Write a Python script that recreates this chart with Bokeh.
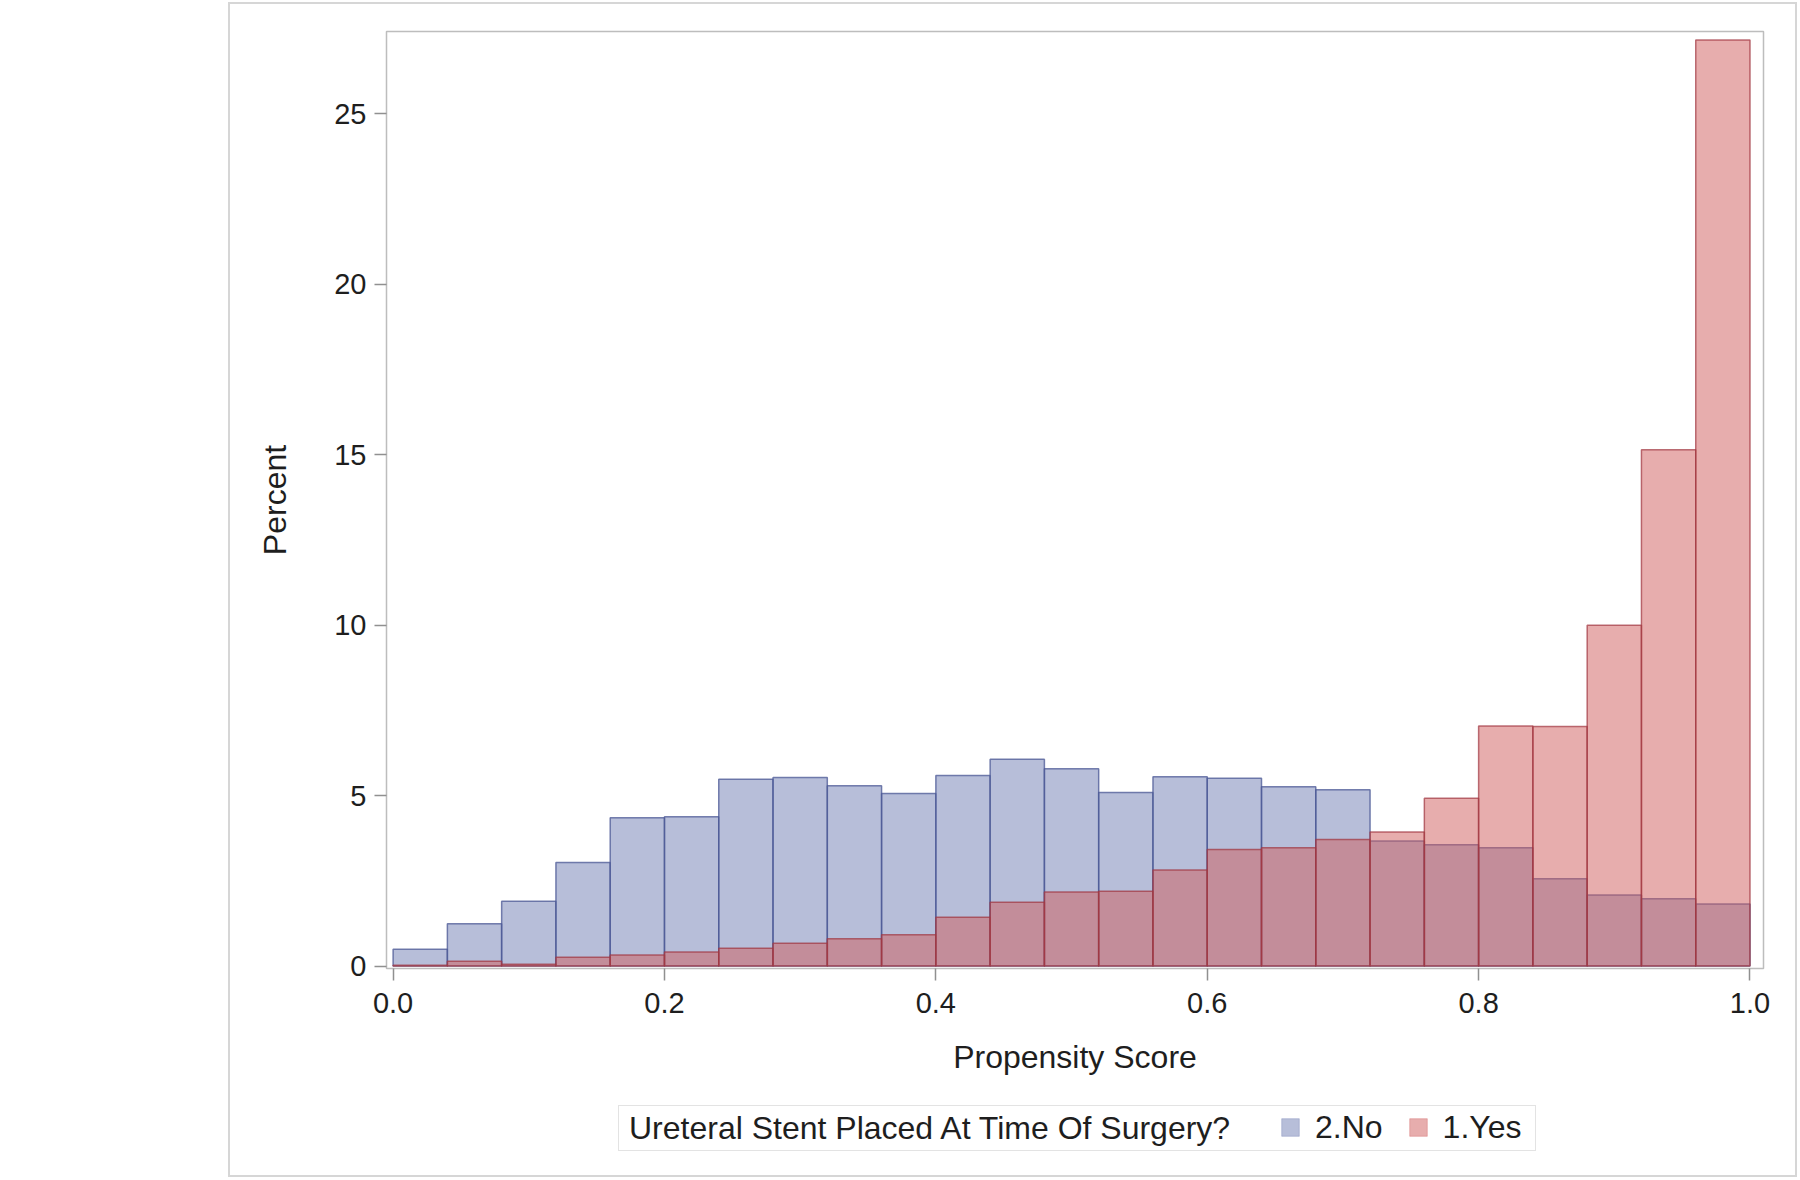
from bokeh.plotting import figure
from bokeh.models import (Range1d, FixedTicker, NumeralTickFormatter, Legend, LegendItem,
                          ColumnDataSource, Spacer)
from bokeh.layouts import row, column
from bokeh.embed import file_html
from bokeh.resources import INLINE

# ---- data (percent per propensity-score bin, bin width 0.04) ----
bin_edges = [0.00, 0.04, 0.08, 0.12, 0.16, 0.20, 0.24, 0.28, 0.32, 0.36, 0.40, 0.44, 0.48,
             0.52, 0.56, 0.60, 0.64, 0.68, 0.72, 0.76, 0.80, 0.84, 0.88, 0.92, 0.96, 1.00]
pct_no = [0.49, 1.24, 1.90, 3.04, 4.35, 4.38, 5.48, 5.53, 5.29, 5.06, 5.59, 6.07, 5.79,
          5.09, 5.55, 5.51, 5.26, 5.17, 3.67, 3.56, 3.47, 2.56, 2.08, 1.97, 1.82]
pct_yes = [0.02, 0.14, 0.05, 0.26, 0.32, 0.41, 0.52, 0.67, 0.80, 0.92, 1.43, 1.87, 2.17,
           2.19, 2.82, 3.42, 3.47, 3.71, 3.93, 4.92, 7.04, 7.03, 10.0, 15.15, 27.17]
group_labels = ["2.No", "1.Yes"]
legend_title = "Ureteral Stent Placed At Time Of Surgery?"
x_ticks = [0.0, 0.2, 0.4, 0.6, 0.8, 1.0]
y_ticks = [0, 5, 10, 15, 20, 25]
x_label = "Propensity Score"
y_label = "Percent"

FONT = "Liberation Sans"
TXT = "#1e1e1e"
BLUE, BLUE_EDGE = "#6F7EB3", "#4A5794"
RED, RED_EDGE = "#D05B5B", "#A0343E"

src_no = ColumnDataSource(dict(left=bin_edges[:-1], right=bin_edges[1:],
                               top=pct_no, bottom=[0] * len(pct_no)))
src_yes = ColumnDataSource(dict(left=bin_edges[:-1], right=bin_edges[1:],
                                top=pct_yes, bottom=[0] * len(pct_yes)))

# ---------------- main histogram ----------------
p = figure(width=1569, height=1094, output_backend="svg", toolbar_location=None,
           x_range=Range1d(-0.00486, 1.00995), y_range=Range1d(-0.073, 27.42),
           min_border_left=158, min_border_right=34, min_border_top=29, min_border_bottom=128)
p.border_fill_color = None

r_no = p.quad(left="left", right="right", top="top", bottom="bottom", source=src_no,
              fill_color=BLUE, fill_alpha=0.5, line_color=BLUE_EDGE, line_alpha=0.75,
              line_width=1.5)
r_yes = p.quad(left="left", right="right", top="top", bottom="bottom", source=src_yes,
               fill_color=RED, fill_alpha=0.5, line_color=RED_EDGE, line_alpha=0.7,
               line_width=1.5)

p.grid.visible = False
p.outline_line_color = "#bdbdbd"
p.outline_line_width = 1.5
p.background_fill_color = "white"

for ax in (p.xaxis[0], p.yaxis[0]):
    ax.axis_line_color = None
    ax.major_tick_line_color = "#909090"
    ax.major_tick_line_width = 1.5
    ax.major_tick_in = 0
    ax.major_tick_out = 12
    ax.minor_tick_line_color = None
    ax.major_label_text_font = FONT
    ax.major_label_text_font_size = "29px"
    ax.major_label_text_color = TXT
    ax.axis_label_text_font = FONT
    ax.axis_label_text_font_size = "32px"
    ax.axis_label_text_font_style = "normal"
    ax.axis_label_text_color = TXT

p.xaxis.ticker = FixedTicker(ticks=x_ticks)
p.xaxis.formatter = NumeralTickFormatter(format="0.0")
p.xaxis.major_label_standoff = 12
p.xaxis.axis_label = x_label
p.xaxis.axis_label_standoff = 23

p.yaxis.ticker = FixedTicker(ticks=y_ticks)
p.yaxis.major_label_standoff = 8
p.yaxis.axis_label = y_label
p.yaxis.axis_label_standoff = 38

# ---------------- legend strip (frame aligned with the main plot's frame) ----------------
q = figure(width=1569, height=81, output_backend="svg", toolbar_location=None,
           x_axis_location=None, y_axis_location=None, min_border=0,
           x_range=Range1d(0, 1), y_range=Range1d(-2, -1))
q.grid.visible = False
q.outline_line_color = None
q.background_fill_color = None
q.border_fill_color = None

dummy = q.quad(left=[], right=[], top=[], bottom=[], fill_alpha=0, line_alpha=0)
# same bars, outside this strip's visible range: only their legend swatches show
leg_no = q.quad(left="left", right="right", top="top", bottom="bottom", source=src_no,
                fill_color=BLUE, fill_alpha=0.5, line_color=BLUE, line_alpha=0.35)
leg_yes = q.quad(left="left", right="right", top="top", bottom="bottom", source=src_yes,
                 fill_color=RED, fill_alpha=0.5, line_color=RED, line_alpha=0.35)

common = dict(orientation="horizontal", label_text_font=FONT, label_text_font_size="32px",
              label_text_color=TXT, glyph_height=22, label_height=38, padding=3, margin=0)

legend_a = Legend(items=[LegendItem(label=legend_title, renderers=[dummy])],
                  location=(232, 26), glyph_width=7, label_standoff=0, label_width=903,
                  border_line_color="#c8c8c8", border_line_width=1.5,
                  background_fill_color="white", background_fill_alpha=1.0, **common)
legend_b = Legend(items=[LegendItem(label=group_labels[0], renderers=[leg_no]),
                         LegendItem(label=group_labels[1], renderers=[leg_yes])],
                  location=(893, 31), glyph_width=22, label_standoff=14, spacing=24,
                  border_line_color=None, background_fill_alpha=0.0, **common)
q.add_layout(legend_a, "center")
q.add_layout(legend_b, "center")

panel = column(p, q, styles={"box-shadow": "inset 0 0 0 2px #d6d6d6"})
layout = column(Spacer(width=10, height=2), row(Spacer(width=228, height=1175), panel))
open("out.html", "w").write(file_html(layout, INLINE))
